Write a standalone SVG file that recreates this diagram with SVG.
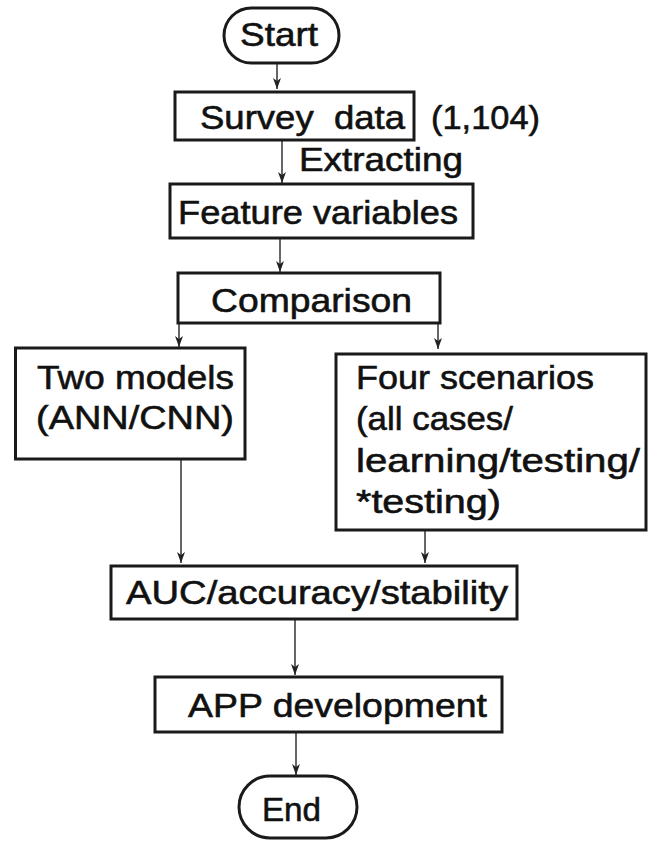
<svg xmlns="http://www.w3.org/2000/svg" width="656" height="843" viewBox="0 0 656 843">
<style>
.box{fill:#fff;stroke:#1a1a1a;stroke-width:3}
.t{font-family:"Liberation Sans","Open Sans",sans-serif;font-size:34px;fill:#111;stroke:#111;stroke-width:0.6}
.c{stroke:#333;stroke-width:1.5;fill:none}
</style>
<defs>
<marker id="ah" markerUnits="userSpaceOnUse" markerWidth="12" markerHeight="8" refX="11" refY="4" orient="auto" viewBox="0 0 12 8">
<path d="M0,0 L11,4 L0,8 L3,4 Z" fill="#222"/>
</marker>
</defs>
<rect width="656" height="843" fill="#fff"/>
<g id="connectors">
<line class="c" x1="277" y1="63" x2="277" y2="89" marker-end="url(#ah)"/>
<line class="c" x1="282" y1="140" x2="282" y2="183" marker-end="url(#ah)"/>
<line class="c" x1="280" y1="238" x2="280" y2="272" marker-end="url(#ah)"/>
<line class="c" x1="179" y1="323" x2="179" y2="347" marker-end="url(#ah)"/>
<line class="c" x1="438" y1="323" x2="438" y2="349" marker-end="url(#ah)"/>
<line class="c" x1="181" y1="459" x2="181" y2="563" marker-end="url(#ah)"/>
<line class="c" x1="425" y1="530" x2="425" y2="563" marker-end="url(#ah)"/>
<line class="c" x1="295" y1="619" x2="295" y2="675" marker-end="url(#ah)"/>
<line class="c" x1="296" y1="732" x2="296" y2="775" marker-end="url(#ah)"/>
</g>
<g id="start">
<rect class="box" x="224" y="8" width="115" height="55" rx="27.5"/>
<text class="t" x="240" y="46" textLength="78" lengthAdjust="spacingAndGlyphs">Start</text>
</g>
<g id="survey">
<rect class="box" x="175" y="92" width="239" height="48"/>
<text class="t" x="200" y="129" textLength="205" lengthAdjust="spacingAndGlyphs" xml:space="preserve">Survey  data</text>
</g>
<g id="count">
<text class="t" x="431" y="129" textLength="109" lengthAdjust="spacingAndGlyphs">(1,104)</text>
</g>
<g id="extracting">
<text class="t" x="299" y="171" textLength="164" lengthAdjust="spacingAndGlyphs">Extracting</text>
</g>
<g id="feature">
<rect class="box" x="170" y="184" width="303" height="54"/>
<text class="t" x="178" y="224" textLength="280" lengthAdjust="spacingAndGlyphs">Feature variables</text>
</g>
<g id="comparison">
<rect class="box" x="178" y="273" width="262" height="50"/>
<text class="t" x="211" y="312" textLength="201" lengthAdjust="spacingAndGlyphs">Comparison</text>
</g>
<g id="two-models">
<rect class="box" x="15.5" y="348" width="229.5" height="111"/>
<text class="t" x="37" y="389" textLength="197" lengthAdjust="spacingAndGlyphs">Two models</text>
<text class="t" x="36" y="429" textLength="198" lengthAdjust="spacingAndGlyphs">(ANN/CNN)</text>
</g>
<g id="four-scenarios">
<rect class="box" x="336" y="354" width="310" height="176"/>
<text class="t" x="356" y="389" textLength="238" lengthAdjust="spacingAndGlyphs">Four scenarios</text>
<text class="t" x="356" y="430" textLength="157" lengthAdjust="spacingAndGlyphs">(all cases/</text>
<text class="t" x="356" y="472" textLength="284" lengthAdjust="spacingAndGlyphs">learning/testing/</text>
<text class="t" x="356" y="513" textLength="145" lengthAdjust="spacingAndGlyphs">*testing)</text>
</g>
<g id="auc">
<rect class="box" x="111" y="566" width="406" height="53"/>
<text class="t" x="126" y="604" textLength="382" lengthAdjust="spacingAndGlyphs">AUC/accuracy/stability</text>
</g>
<g id="app">
<rect class="box" x="155" y="677" width="347" height="55"/>
<text class="t" x="188" y="717" textLength="299" lengthAdjust="spacingAndGlyphs">APP development</text>
</g>
<g id="end">
<rect class="box" x="239" y="776" width="118" height="62" rx="31"/>
<text class="t" x="262" y="821" textLength="59" lengthAdjust="spacingAndGlyphs">End</text>
</g>
</svg>
